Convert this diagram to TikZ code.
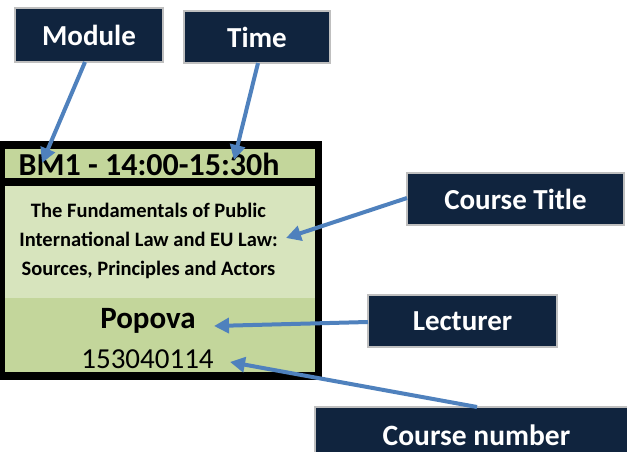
\documentclass[tikz,border=0pt]{standalone}
\usepackage{fontspec}
\setmainfont{Carlito}
\usetikzlibrary{arrows.meta}
\definecolor{navy}{HTML}{10243E}
\definecolor{boxedge}{HTML}{BFBFBF}
\definecolor{arrowblue}{HTML}{4F81BD}
\definecolor{hdrgreen}{HTML}{C3D69B}
\definecolor{lightgreen}{HTML}{D7E4BD}
\tikzset{
  label box/.style={fill=navy, draw=boxedge, line width=1.5pt, text=white,
    font=\fontsize{29}{29}\selectfont\bfseries, inner sep=0pt},
  pointer/.style={draw=arrowblue, line width=4pt,
    -{Triangle[length=15pt,width=15pt]}},
  titleline/.style={anchor=base, inner sep=0pt, font=\fontsize{20.5}{20.5}\selectfont\bfseries},
}
\begin{document}
\begin{tikzpicture}[x=1pt,y=-1pt]
\useasboundingbox (0,0) rectangle (627,452);
\fill[white] (0,0) rectangle (627,452);
% card fills
\fill[hdrgreen] (0,145) rectangle (318,182);
\fill[lightgreen] (0,182) rectangle (318,298);
\fill[hdrgreen] (0,298) rectangle (318,376);
% card borders
\draw[line width=7.5pt] (1.5,145) rectangle (318.5,376);
\draw[line width=7.5pt] (1.5,182) -- (318.5,182);
% card texts
\node[anchor=base west, inner sep=0pt, font=\fontsize{32}{32}\selectfont\bfseries] (hdr) at (18.5,175) {BM1 - 14:00-15:30h};
\node[titleline] (t1) at (148.5,217) {The Fundamentals of Public};
\node[titleline] (t2) at (148.5,246.5) {International Law and EU Law:};
\node[titleline] (t3) at (148.5,275) {Sources, Principles and Actors};
\node[anchor=base, inner sep=0pt, font=\fontsize{31}{31}\selectfont\bfseries] (lect) at (148,328) {Popova};
\node[anchor=base, inner sep=0pt, font=\fontsize{29}{29}\selectfont] (num) at (147.5,368) {153040114};
% label boxes
\node[label box, minimum width=148pt, minimum height=54pt] (mod) at (89,35) {Module};
\node[label box, minimum width=146pt, minimum height=52pt] (time) at (257,37) {Time};
\node[label box, minimum width=217pt, minimum height=52pt] (ct) at (515.5,199) {Course Title};
\node[label box, minimum width=189pt, minimum height=52pt] (lr) at (462.5,321) {Lecturer};
\draw[fill=navy, draw=boxedge, line width=1.5pt] (315,407) rectangle (640,470);
\node[anchor=base, inner sep=0pt, text=white, font=\fontsize{29.5}{29.5}\selectfont\bfseries] (cn) at (476.5,445) {Course number};
% arrow end points
\coordinate (modS) at (85,62);
\coordinate (modT) at (42,163);
\coordinate (timeS) at (258,63);
\coordinate (timeT) at (234,160);
\coordinate (ctS) at (407,198);
\coordinate (ctT) at (286,238);
\coordinate (lrS) at (368,322);
\coordinate (lrT) at (214,326);
\coordinate (cnS) at (477,407);
\coordinate (cnT) at (230,362);
\draw[pointer] (modS) -- (modT);
\draw[pointer] (timeS) -- (timeT);
\draw[pointer] (ctS) -- (ctT);
\draw[pointer] (lrS) -- (lrT);
\draw[pointer] (cnS) -- (cnT);
\end{tikzpicture}
\end{document}
